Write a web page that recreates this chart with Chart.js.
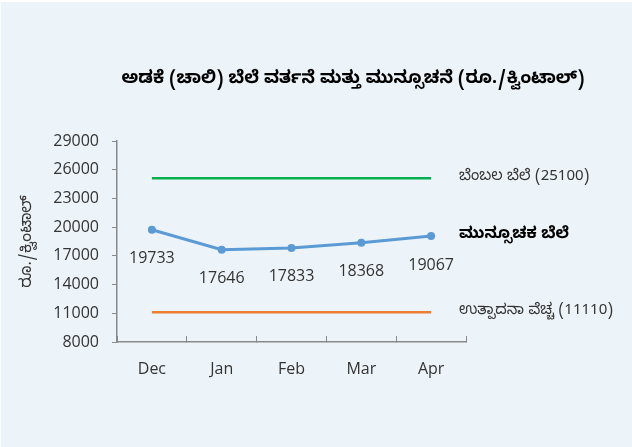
<!DOCTYPE html>
<html>
<head>
<meta charset="utf-8">
<script src="https://cdn.jsdelivr.net/npm/chart.js@4.4.1/dist/chart.umd.min.js"></script>
<style>
  html, body { margin: 0; padding: 0; background: #ffffff; }
  #wrap { width: 632px; height: 447px; }
</style>
</head>
<body>
<div id="wrap"><canvas id="priceChart" width="632" height="447"></canvas></div>
<script>
const months = ['Dec', 'Jan', 'Feb', 'Mar', 'Apr'];
const forecastPrice = [19733, 17646, 17833, 18368, 19067];
const supportPrice = [25100, 25100, 25100, 25100, 25100];
const productionCost = [11110, 11110, 11110, 11110, 11110];

const chartTitle = 'ಅಡಕೆ (ಚಾಲಿ) ಬೆಲೆ ವರ್ತನೆ ಮತ್ತು ಮುನ್ಸೂಚನೆ (ರೂ./ಕ್ವಿಂಟಾಲ್)';
const yTitle = 'ರೂ./ಕ್ವಿಂಟಾಲ್';
const seriesNames = ['ಬೆಂಬಲ ಬೆಲೆ (25100)', 'ಮುನ್ಸೂಚಕ ಬೆಲೆ', 'ಉತ್ಪಾದನಾ ವೆಚ್ಚ (11110)'];

const knFont = '"Noto Sans Kannada", "Noto Sans", sans-serif';
const numFont = '"Open Sans", "Noto Sans", sans-serif';
const textColor = '#333333';
const axisColor = '#898989';

// background, titles and the labels next to the lines
const decorPlugin = {
    id: 'decor',
    beforeDraw(chart) {
        const ctx = chart.ctx;
        ctx.save();
        ctx.fillStyle = '#EDF4F9';
        ctx.fillRect(1, 2, chart.width, chart.height);
        ctx.restore();
    },
    afterDatasetsDraw(chart) {
        const ctx = chart.ctx;
        const area = chart.chartArea;
        ctx.save();
        // title
        ctx.fillStyle = '#000000';
        ctx.font = 'bold 17.5px ' + knFont;
        ctx.textAlign = 'center';
        ctx.textBaseline = 'middle';
        ctx.fillText(chartTitle, 353, 81);

        // y axis title
        ctx.save();
        ctx.translate(29, (area.top + area.bottom) / 2);
        ctx.rotate(-Math.PI / 2);
        ctx.font = '16px ' + knFont;
        ctx.fillStyle = textColor;
        ctx.fillText(yTitle, 0, 0);
        ctx.restore();

        // value labels under the forecast points
        const fMeta = chart.getDatasetMeta(1);
        ctx.font = '16px ' + numFont;
        ctx.fillStyle = textColor;
        fMeta.data.forEach((pt, i) => {
            ctx.fillText(String(forecastPrice[i]), pt.x, pt.y + 29);
        });

        // series names at the right end of each line
        ctx.textAlign = 'left';
        chart.data.datasets.forEach((ds, di) => {
            const meta = chart.getDatasetMeta(di);
            const last = meta.data[meta.data.length - 1];
            ctx.font = (di === 1 ? 'bold 16px ' : '15px ') + knFont;
            ctx.fillStyle = di === 1 ? '#000000' : textColor;
            ctx.fillText(seriesNames[di], area.right - 7, last.y);
        });
        ctx.restore();
    }
};

const ctx = document.getElementById('priceChart').getContext('2d');
const chart = new Chart(ctx, {
    type: 'line',
    data: {
        labels: months,
        datasets: [
            {
                label: seriesNames[0],
                data: supportPrice,
                borderColor: '#00B050',
                borderWidth: 2.5,
                pointRadius: 0,
                tension: 0
            },
            {
                label: seriesNames[1],
                data: forecastPrice,
                borderColor: '#5B9BD5',
                backgroundColor: '#5B9BD5',
                borderWidth: 3,
                pointRadius: 4,
                pointBorderWidth: 0,
                tension: 0
            },
            {
                label: seriesNames[2],
                data: productionCost,
                borderColor: '#ED7D31',
                borderWidth: 2.5,
                pointRadius: 0,
                tension: 0
            }
        ]
    },
    options: {
        responsive: false,
        animation: false,
        layout: {
            padding: { left: 0, right: 166, top: 141, bottom: 0 }
        },
        plugins: {
            legend: { display: false },
            tooltip: { enabled: false }
        },
        scales: {
            x: {
                offset: true,
                grid: {
                    offset: true,
                    drawOnChartArea: false,
                    drawTicks: true,
                    tickLength: -6,
                    color: axisColor,
                    lineWidth: 1
                },
                border: { color: axisColor, width: 1.5 },
                ticks: {
                    color: textColor,
                    font: { family: numFont, size: 16 },
                    padding: 24
                },
                afterFit(scale) { scale.height = 105; }
            },
            y: {
                min: 8000,
                max: 29000,
                grid: {
                    drawOnChartArea: false,
                    drawTicks: true,
                    tickLength: 5,
                    color: axisColor
                },
                border: { color: axisColor, width: 1.5 },
                ticks: {
                    stepSize: 3000,
                    color: textColor,
                    font: { family: numFont, size: 16 },
                    padding: 13,
                    callback: (v) => String(v)
                },
                afterFit(scale) { scale.width = 117; }
            }
        }
    },
    plugins: [decorPlugin]
});
</script>
</body>
</html>
